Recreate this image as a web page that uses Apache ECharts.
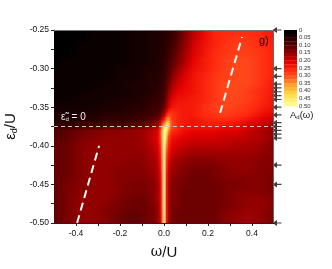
<!DOCTYPE html>
<html><head><meta charset="utf-8">
<style>html,body{margin:0;padding:0;background:#fff}#c{width:332px;height:269px}</style>
<script src="https://cdn.jsdelivr.net/npm/echarts@6/dist/echarts.min.js"></script>
</head><body><div id="c"></div>
<script>
// omega samples (columns), epsilon samples (rows)
const omega=[-.5,-.44,-.38,-.32,-.26,-.2,-.14,-.09,-.05,-.03,-.02,-.01,0,.01,.02,.03,.04,.06,.09,.13,.18,.23,.28,.33,.38,.44,.5];
const eps=[-.25,-.26,-.27,-.28,-.29,-.30,-.31,-.32,-.33,-.34,-.35,-.36,-.37,-.375,-.38,-.39,-.40,-.41,-.42,-.43,-.44,-.45,-.46,-.47,-.48,-.49,-.50];
// A_d(omega) in hundredths, one row per eps sample
const spectral=[
[0,0,0,1,1,1,2,2,3,3,3,3,4,4,5,5,6,8,11,16,21,24,25,25,25,24,23],
[0,0,0,1,1,1,2,2,3,3,3,3,4,4,5,5,6,8,12,17,21,24,25,26,26,25,23],
[0,0,1,1,1,1,2,2,3,3,3,4,4,5,5,6,7,10,13,18,22,24,26,27,27,25,24],
[0,0,1,1,1,1,2,2,3,3,3,4,4,5,6,7,8,11,14,19,22,25,26,27,27,26,24],
[0,1,1,1,1,1,2,2,3,3,4,4,5,6,7,8,9,12,15,20,23,25,27,28,28,26,24],
[1,1,1,1,1,2,2,3,3,4,4,4,5,6,8,9,11,14,17,21,23,25,27,28,28,26,24],
[1,1,1,1,1,2,2,3,4,4,4,5,6,8,9,11,13,16,19,22,24,26,27,28,28,26,24],
[1,1,1,1,2,2,3,3,4,4,5,5,6,9,11,13,15,18,20,22,24,26,28,28,28,26,23],
[1,1,1,2,2,2,3,3,4,5,5,6,7,10,13,15,17,20,21,22,24,26,28,28,27,25,23],
[1,1,2,2,2,3,3,4,5,5,6,6,8,12,15,18,20,22,22,23,24,26,28,28,27,25,22],
[2,2,2,2,3,3,4,4,6,6,7,8,10,14,18,21,22,23,23,23,25,27,28,27,26,24,22],
[3,3,3,3,4,4,5,6,7,8,9,11,15,22,26,27,26,24,23,23,25,26,27,26,25,22,20],
[4,4,5,5,6,6,7,8,11,13,15,20,28,38,40,32,27,24,23,22,23,24,24,23,21,19,17],
[6,6,7,8,9,9,10,12,14,16,19,26,38,48,44,33,28,25,23,22,23,23,22,22,20,18,15],
[8,9,11,12,13,13,14,15,17,19,23,32,48,46,36,29,26,24,22,21,21,21,20,20,18,16,14],
[9,10,12,13,14,14,14,15,18,20,23,32,50,40,28,24,22,21,20,19,19,19,18,18,17,16,14],
[10,11,13,14,14,14,14,15,17,19,22,30,50,34,25,22,20,19,18,17,17,17,17,16,16,15,13],
[10,11,13,14,14,14,14,14,16,18,21,28,50,30,23,20,18,17,16,15,15,15,15,15,15,14,13],
[10,11,13,14,14,14,13,14,15,17,20,26,50,28,21,18,16,15,14,13,13,13,14,14,14,13,13],
[10,11,13,14,14,13,13,13,15,16,19,25,50,26,19,16,15,14,13,12,12,12,13,14,14,13,13],
[10,11,13,14,14,13,13,13,14,16,18,24,50,25,18,15,14,13,12,11,11,12,13,13,13,13,12],
[10,12,13,14,14,13,12,12,13,15,17,23,50,24,17,14,13,12,12,11,11,11,12,12,13,13,12],
[10,12,13,14,14,13,12,12,13,15,17,23,50,24,17,14,13,12,11,11,11,11,12,13,13,13,12],
[10,12,14,14,14,12,11,11,13,15,17,23,49,24,16,14,13,12,11,11,11,11,12,13,14,14,13],
[10,12,14,14,13,12,11,11,12,14,16,23,49,24,16,13,12,12,11,11,11,11,12,13,14,14,13],
[10,12,14,14,13,11,10,11,12,14,16,22,48,24,16,13,12,11,11,11,11,11,13,14,15,14,12],
[10,12,14,14,13,11,10,11,12,14,16,22,48,24,16,13,12,11,11,11,11,11,13,14,15,14,12]
];
const colorStops=[[0,'#000000'],[5,'#300000'],[10,'#600000'],[15,'#a00000'],[20,'#e40000'],[25,'#ff2a10'],[30,'#ff5a20'],[35,'#ffa030'],[40,'#ffd040'],[45,'#fff070'],[50,'#ffffa8']];
const barLevels=[0,2.5,5,7.5,10,12.5,15,17.5,20,22.5,25,27.5,30,32.5,35,37.5,40,42.5,45,47.5];
const dashLeft=[[-.395,-.5],[-.295,-.40]];
const dashRight=[[.255,-.3575],[.355,-.2590]];
const zeroLine=[[-.5,-.375],[.5,-.375]];
const arrowEps=[-.25,-.30,-.31,-.32,-.325,-.33,-.335,-.34,-.35,-.36,-.37,-.375,-.38,-.385,-.39,-.425,-.45,-.50];

function hex(c){return [1,3,5].map(i=>parseInt(c.substr(i,2),16));}
function colorAt(v){
  for(let i=1;i<colorStops.length;i++){
    if(v<=colorStops[i][0]){
      const a=colorStops[i-1],b=colorStops[i],t=(v-a[0])/(b[0]-a[0]);
      const A=hex(a[1]),B=hex(b[1]);
      return 'rgb('+A.map((x,k)=>Math.round(x+(B[k]-x)*t)).join(',')+')';
    }
  }
  return colorStops[colorStops.length-1][1];
}
const cells=[];
for(let j=0;j<eps.length-1;j++)for(let i=0;i<omega.length-1;i++)
  cells.push([omega[i],omega[i+1],eps[j],eps[j+1],spectral[j][i],spectral[j][i+1],spectral[j+1][i],spectral[j+1][i+1]]);
const barCells=barLevels.map((l,i)=>[l/100,(barLevels[i+1]!==undefined?barLevels[i+1]:50)/100,l]);

const chart=echarts.init(document.getElementById('c'),null,{renderer:'canvas'});
const F='"Liberation Sans",Arial,sans-serif';
chart.setOption({
  animation:false,backgroundColor:'#fff',
  grid:[{left:54,top:30,width:220,height:193,show:false,outerBoundsMode:'none'},{left:284,top:30,width:13,height:76,show:false,outerBoundsMode:'none'}],
  xAxis:[{type:'value',min:-.5,max:.5,interval:.1,gridIndex:0,position:'bottom',
      name:'{w|ω}{t|/U}',nameLocation:'middle',nameGap:22,
      nameTextStyle:{rich:{w:{fontFamily:'"DejaVu Serif",serif',fontSize:14,color:'#111'},t:{fontFamily:F,fontSize:15,color:'#111'}}},
      axisLine:{show:true,onZero:false,lineStyle:{color:'#222',width:1}},
      axisTick:{show:true,length:3,lineStyle:{color:'#222'}},splitLine:{show:false},
      axisLabel:{fontFamily:F,fontSize:8.5,color:'#111',margin:6,showMinLabel:false,showMaxLabel:false,
        formatter:v=>{const k=Math.round(v*10);return k%2===0&&Math.abs(k)<5?v.toFixed(1):'';}}},
    {type:'value',min:0,max:1,gridIndex:1,show:false}],
  yAxis:[{type:'value',min:-.5,max:-.25,interval:.025,gridIndex:0,
      name:'{e|ε}{s|d}{t|/U}',nameLocation:'middle',nameGap:35,nameRotate:90,
      nameTextStyle:{rich:{e:{fontFamily:F,fontSize:15,color:'#111'},s:{fontFamily:F,fontSize:9,color:'#111',verticalAlign:'bottom',padding:[6,0,0,0]},t:{fontFamily:F,fontSize:15,color:'#111'}}},
      axisLine:{show:true,onZero:false,lineStyle:{color:'#444',width:1}},
      axisTick:{show:true,length:3,lineStyle:{color:'#222'}},splitLine:{show:false},
      axisLabel:{fontFamily:F,fontSize:8.5,color:'#111',margin:5,
        formatter:v=>{const k=Math.round(v*1000);return k%50===0?v.toFixed(2):'';}}},
    {type:'value',inverse:true,min:0,max:.5,interval:.05,gridIndex:1,
      axisLine:{show:false},axisTick:{show:false},splitLine:{show:false},
      axisLabel:{fontFamily:F,fontSize:6,color:'#333',margin:2,formatter:v=>Math.abs(v)<1e-9?'0':v.toFixed(2)},position:'right'}],
  series:[
   {type:'custom',xAxisIndex:0,yAxisIndex:0,coordinateSystem:'cartesian2d',clip:true,silent:true,
    encode:{x:[0,1],y:[2,3]},data:cells,
    renderItem:(p,api)=>{
      const a=api.coord([api.value(0),api.value(2)]),b=api.coord([api.value(1),api.value(3)]);
      const x0=Math.floor(a[0]),x1=Math.ceil(b[0]),y0=a[1],y1=b[1];
      const n=Math.max(1,Math.ceil((y1-y0)/1.5)),kids=[];
      for(let s=0;s<n;s++){
        const t=(s+.5)/n;
        const L=api.value(4)+(api.value(6)-api.value(4))*t,R=api.value(5)+(api.value(7)-api.value(5))*t;
        const ys=Math.floor(y0+(y1-y0)*s/n),ye=Math.ceil(y0+(y1-y0)*(s+1)/n);
        kids.push({type:'rect',shape:{x:x0,y:ys,width:x1-x0,height:ye-ys},
          style:{fill:new echarts.graphic.LinearGradient(0,0,1,0,[{offset:0,color:colorAt(L)},{offset:1,color:colorAt(R)}])}});
      }
      return {type:'group',children:kids};
    }},
   {type:'line',data:dashLeft,showSymbol:false,silent:true,lineStyle:{color:'#fff',width:2,type:[8,5]},z:5},
   {type:'line',data:dashRight,showSymbol:false,silent:true,lineStyle:{color:'#fff',width:2,type:[8,5]},z:5},
   {type:'line',data:zeroLine,showSymbol:false,silent:true,lineStyle:{color:'#c8c8c8',width:1,type:[4,3]},z:5},
   {type:'scatter',data:arrowEps.map(e=>[.5,e]),clip:false,silent:true,z:6,
    symbol:'path://M0 5 L5 0 L5 4 L10 4 L10 6 L5 6 L5 10 Z',symbolSize:[9,6],symbolOffset:[3,0],
    itemStyle:{color:'#111'}},
   {type:'custom',xAxisIndex:1,yAxisIndex:1,coordinateSystem:'cartesian2d',silent:true,
    encode:{y:[0,1]},data:barCells,
    renderItem:(p,api)=>{
      const a=api.coord([0,api.value(0)]),b=api.coord([1,api.value(1)]);
      return {type:'rect',shape:{x:a[0],y:a[1],width:b[0]-a[0],height:b[1]-a[1]+.3},style:{fill:colorAt(api.value(2))}};
    }}
  ],
  graphic:[
   {type:'rect',left:54,top:30,shape:{width:220,height:1},style:{fill:'#777'},z:10,silent:true},
   {type:'rect',left:273,top:30,shape:{width:1,height:193},style:{fill:'#666'},z:10,silent:true},
   {type:'text',left:61,top:112,z:10,silent:true,style:{text:'{a|ε̃}{b|d}{a| = 0}',rich:{a:{fontFamily:F,fontSize:10,fill:'#eee',color:'#eee'},b:{fontFamily:F,fontSize:6,fill:'#eee',color:'#eee',padding:[5,0,0,0]}}}},
   {type:'text',left:259,top:35,z:10,silent:true,style:{text:'g)',font:'11px '+F,fill:'#111'}},
   {type:'text',left:290,top:110,z:10,silent:true,style:{text:'{a|A}{b|d}{a|(ω)}',rich:{a:{fontFamily:F,fontSize:9.5,fill:'#222',color:'#222'},b:{fontFamily:F,fontSize:6,fill:'#222',color:'#222',padding:[5,0,0,0]}}}}
  ]
});
</script></body></html>
